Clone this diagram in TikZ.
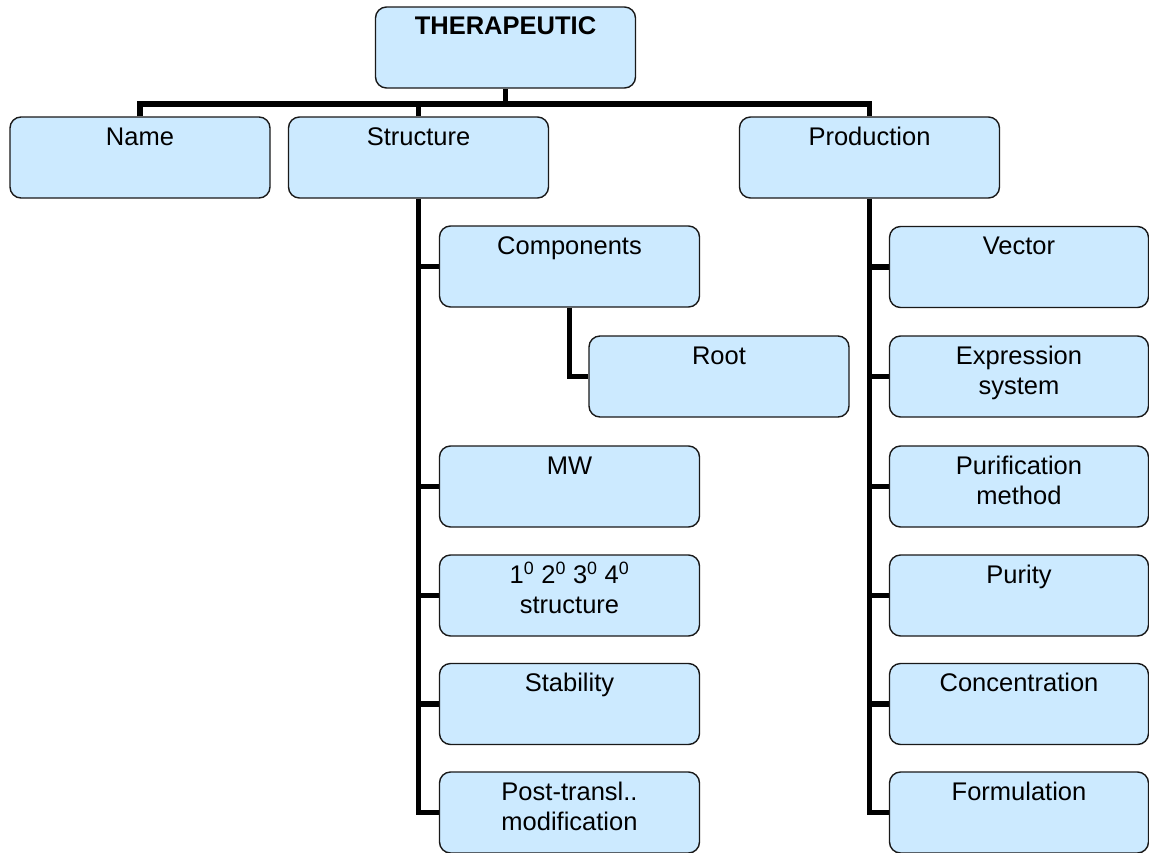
\documentclass[tikz,border=0pt]{standalone}
\usepackage{fontspec}
\setmainfont{Liberation Sans}
\definecolor{boxblue}{RGB}{204,234,255}
\pgfdeclarelayer{bg}
\pgfsetlayers{bg,main}
% two centred lines whose baseline is the first line's
\newcommand\twoline[2]{\vtop{\halign{\hfil##\hfil\cr #1\cr #2\cr}}}
\begin{document}
\begin{tikzpicture}[x=1pt,y=-1pt,
  box/.style={draw=black!90, line width=1.4pt, fill=boxblue, rounded corners=11pt,
    minimum width=260pt, minimum height=81pt, inner sep=0pt},
  txt/.style={anchor=base, inner sep=0pt, font=\fontsize{25.5}{30}\selectfont},
  conn/.style={line width=5.5pt, line join=miter}]
\useasboundingbox (0,0) rectangle (1149,852);

% boxes
\node[box] (thera)  at (505.5,47.5) {};
\node[box] (name)   at (140,157.5) {};
\node[box] (struct) at (418.5,157.5) {};
\node[box] (prod)   at (869.5,157.5) {};

\node[box] (comp)   at (569.5,266.5) {};
\node[box] (root)   at (719,376.5) {};
\node[box] (mw)     at (569.5,486.5) {};
\node[box] (levels) at (569.5,595.5) {};
\node[box] (stab)   at (569.5,704) {};
\node[box] (post)   at (569.5,812.5) {};

\node[box, minimum width=259pt] (vector) at (1019,267) {};
\node[box, minimum width=259pt] (expr)   at (1019,376.5) {};
\node[box, minimum width=259pt] (purif)  at (1019,486.5) {};
\node[box, minimum width=259pt] (purity) at (1019,595.5) {};
\node[box, minimum width=259pt] (conc)   at (1019,704) {};
\node[box, minimum width=259pt] (form)   at (1019,812.5) {};

% labels, set near the top of each box
\node[txt, font=\fontsize{25.5}{30}\selectfont\bfseries] at ([yshift=-28pt]thera.north) {THERAPEUTIC};
\node[txt] at ([yshift=-29pt]name.north) {Name};
\node[txt] at ([yshift=-29pt]struct.north) {Structure};
\node[txt] at ([yshift=-29pt]prod.north) {Production};
\node[txt] at ([yshift=-29pt]comp.north) {Components};
\node[txt] at ([yshift=-29pt]root.north) {Root};
\node[txt] at ([yshift=-29pt]mw.north) {MW};
\node[txt] at ([yshift=-29pt]levels.north) {\twoline{1\textsuperscript{0} 2\textsuperscript{0} 3\textsuperscript{0} 4\textsuperscript{0}}{structure}};
\node[txt] at ([yshift=-29pt]stab.north) {Stability};
\node[txt] at ([yshift=-29pt]post.north) {\twoline{Post-transl..}{modification}};
\node[txt] at ([yshift=-29pt]vector.north) {Vector};
\node[txt] at ([yshift=-29pt]expr.north) {\twoline{Expression}{system}};
\node[txt] at ([yshift=-29pt]purif.north) {\twoline{Purification}{method}};
\node[txt] at ([yshift=-29pt]purity.north) {Purity};
\node[txt] at ([yshift=-29pt]conc.north) {Concentration};
\node[txt] at ([yshift=-29pt]form.north) {Formulation};

% connectors, behind the boxes
\coordinate (bar) at (0,104);
\begin{pgfonlayer}{bg}
\draw[conn] (name.north) |- (bar -| prod.north) -- (prod.north);
\draw[conn] (thera.south) -- (thera.south |- bar);
\draw[conn] (struct.north) -- (struct.north |- bar);

\draw[conn] (struct.south) |- (post.west);
\foreach \n in {comp,mw,levels,stab}
  \draw[conn] (\n.west) -- (\n.west -| struct.south);
\draw[conn] (comp.south) |- (root.west);

\draw[conn] (prod.south) |- (form.west);
\foreach \n in {vector,expr,purif,purity,conc}
  \draw[conn] (\n.west) -- (\n.west -| prod.south);
\end{pgfonlayer}
\end{tikzpicture}
\end{document}
